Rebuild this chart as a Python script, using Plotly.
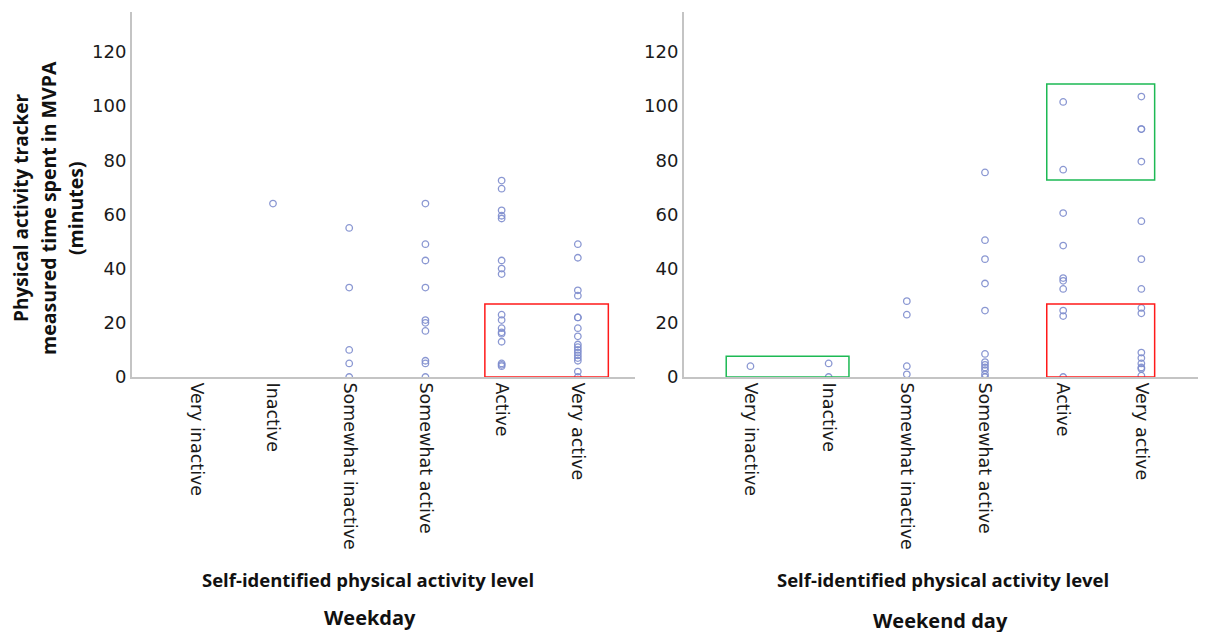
import plotly.graph_objects as go

categories = ["Very inactive", "Inactive", "Somewhat inactive", "Somewhat active", "Active", "Very active"]

weekday_values = {
    "Very inactive": [],
    "Inactive": [64],
    "Somewhat inactive": [55, 33, 10, 5, 0],
    "Somewhat active": [64, 49, 43, 33, 21, 20, 17, 6, 5, 0],
    "Active": [72.5, 69.5, 61.5, 59.5, 58.5, 43, 40, 38, 23, 21, 18, 16.5, 16, 13, 5, 4.5, 4],
    "Very active": [49, 44, 32, 30, 22, 22, 18, 15, 12, 11, 10, 9, 8, 7, 6, 2, 0],
}

weekend_values = {
    "Very inactive": [4],
    "Inactive": [5, 0],
    "Somewhat inactive": [28, 23, 4, 1],
    "Somewhat active": [75.5, 50.5, 43.5, 34.5, 24.5, 8.5, 5.5, 4.5, 3.5, 2.5, 1, 0],
    "Active": [101.5, 76.5, 60.5, 48.5, 36.5, 35.5, 32.5, 24.5, 22.5, 0],
    "Very active": [103.5, 91.5, 91.5, 79.5, 57.5, 43.5, 32.5, 25.5, 23.5, 9, 7, 5, 3.5, 3, 0.5],
}

y_ticks = [0, 20, 40, 60, 80, 100, 120]

# highlight boxes: (axis, x0, x1, y0, y1, colour)
boxes = [
    ("x", 3.78, 5.40, 0, 26.9, "#ff1a1a"),
    ("x2", 3.79, 5.17, 0, 26.9, "#ff1a1a"),
    ("x2", 3.79, 5.17, 72.7, 108.1, "#1db954"),
    ("x2", -0.31, 1.26, 0, 7.7, "#1db954"),
]


def flatten(d):
    xs, ys = [], []
    for c in categories:
        for v in d[c]:
            xs.append(c)
            ys.append(v)
    return xs, ys


W, H = 1206, 632
OFF = 8  # page body margin


def px(x):
    return (x - OFF) / W


def py(y):
    return 1 - (y - OFF) / H


marker = dict(symbol="circle-open", size=6.5, color="rgba(125,140,205,0.9)", line=dict(width=1.3))

fig = go.Figure()
x1, y1 = flatten(weekday_values)
x2, y2 = flatten(weekend_values)
fig.add_trace(go.Scatter(x=x1, y=y1, mode="markers", marker=marker, xaxis="x", yaxis="y", showlegend=False))
fig.add_trace(go.Scatter(x=x2, y=y2, mode="markers", marker=marker, xaxis="x2", yaxis="y2", showlegend=False))

xr = [-0.85, 5.75]
yr = [0, 134.7]
ydom = [py(377), py(12)]
axis_line = dict(showline=True, linecolor="#c4c4c4", linewidth=2, showgrid=False, zeroline=False,
                 ticks="", automargin=False)
xfont = dict(family="DejaVu Sans", size=17.5, color="#1a1a1a")
yfont = dict(family="DejaVu Sans", size=18, color="#1a1a1a")

fig.update_layout(
    width=W, height=H, autosize=False,
    margin=dict(l=0, r=0, t=0, b=0),
    plot_bgcolor="white", paper_bgcolor="white",
    xaxis=dict(domain=[px(132), px(635)], range=xr, type="category", categoryorder="array",
               categoryarray=categories, tickvals=categories, tickangle=90, tickfont=xfont, anchor="y", **axis_line),
    yaxis=dict(domain=ydom, range=yr, tickvals=y_ticks, tickfont=yfont, anchor="x", **axis_line),
    xaxis2=dict(domain=[px(684), px(1200)], range=xr, type="category", categoryorder="array",
                categoryarray=categories, tickvals=categories, tickangle=90, tickfont=xfont, anchor="y2", **axis_line),
    yaxis2=dict(domain=ydom, range=yr, tickvals=y_ticks, tickfont=yfont, anchor="x2", **axis_line),
)

for ax, bx0, bx1, by0, by1, col in boxes:
    fig.add_shape(type="rect", xref=ax, yref="y" if ax == "x" else "y2", x0=bx0, x1=bx1, y0=by0, y1=by1,
                  line=dict(color=col, width=1.5), fillcolor="rgba(0,0,0,0)", layer="above")

title_font = dict(family="Open Sans", size=18.5, color="#111111")


def ann(text, x, y, angle=0, size=18.5):
    fig.add_annotation(text="<b>" + text + "</b>", x=px(x), y=py(y), xref="paper", yref="paper",
                       showarrow=False, textangle=angle, font=dict(title_font, size=size),
                       xanchor="center", yanchor="middle", borderpad=0)


ann("Physical activity tracker", 21, 208, -90, 19)
ann("measured time spent in MVPA", 48, 208, -90, 19.5)
ann("(minutes)", 75, 208, -90, 19.5)
ann("Self-identified physical activity level", 368, 579)
ann("Self-identified physical activity level", 943, 579)
ann("Weekday", 370, 617, 0, 20)
ann("Weekend day", 940, 620, 0, 20)

fig.write_html("out.html")
